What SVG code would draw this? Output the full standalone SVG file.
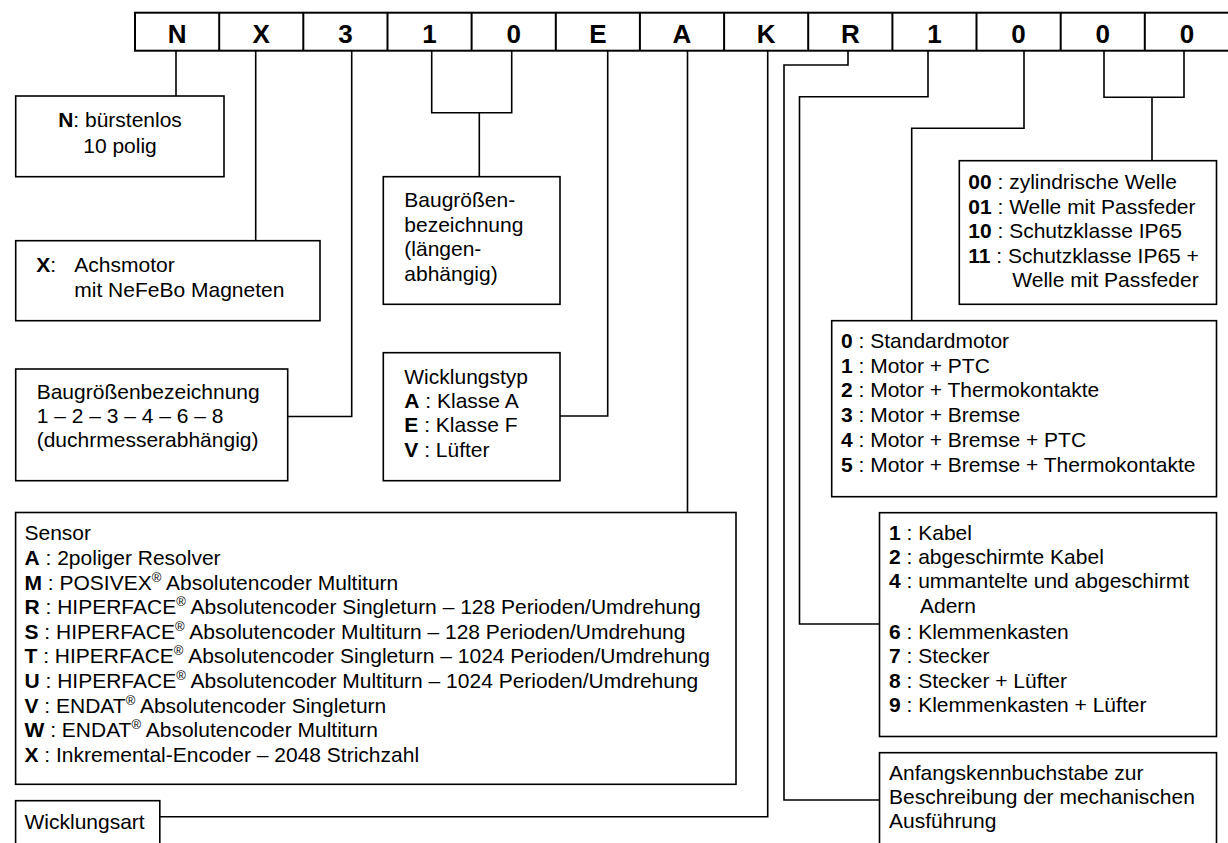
<svg xmlns="http://www.w3.org/2000/svg" width="1228" height="843" viewBox="0 0 1228 843">
<style>
text{font-family:"Liberation Sans",Arial,sans-serif;font-size:21px;fill:#000}
.hd{font-size:26px;font-weight:bold;text-anchor:middle}
.b{font-weight:bold}
.box{fill:#fff;stroke:#000;stroke-width:1.6}
.ln{fill:none;stroke:#000;stroke-width:1.6}
.hl{fill:none;stroke:#000;stroke-width:2}
.sup{font-size:13px}
</style>
<rect width="1228" height="843" fill="#fff"/>
<g id="header">
<rect class="hl" x="135" y="12.7" width="1100" height="38"/>
<path class="hl" d="M219.2 12.7V50.7M303.3 12.7V50.7M387.5 12.7V50.7M471.6 12.7V50.7M555.8 12.7V50.7M639.9 12.7V50.7M724.1 12.7V50.7M808.2 12.7V50.7M892.4 12.7V50.7M976.5 12.7V50.7M1060.7 12.7V50.7M1144.8 12.7V50.7"/>
<text class="hd" x="177.1" y="43">N</text>
<text class="hd" x="261.2" y="43">X</text>
<text class="hd" x="345.4" y="43">3</text>
<text class="hd" x="429.5" y="43">1</text>
<text class="hd" x="513.7" y="43">0</text>
<text class="hd" x="597.8" y="43">E</text>
<text class="hd" x="682" y="43">A</text>
<text class="hd" x="766.1" y="43">K</text>
<text class="hd" x="850.3" y="43">R</text>
<text class="hd" x="934.4" y="43">1</text>
<text class="hd" x="1018.6" y="43">0</text>
<text class="hd" x="1102.7" y="43">0</text>
<text class="hd" x="1186.9" y="43">0</text>
</g>
<g id="connectors">
<path class="ln" d="M176 50.7V96"/>
<path class="ln" d="M255.7 50.7V240.7"/>
<path class="ln" d="M351.7 50.7V416.5H287.7"/>
<path class="ln" d="M431.7 50.7V112.7H511.7V50.7M479.3 112.7V176.7"/>
<path class="ln" d="M607.7 50.7V416H560"/>
<path class="ln" d="M687.5 50.7V512.5"/>
<path class="ln" d="M767.7 50.7V816.7H159.8"/>
<path class="ln" d="M848 50.7V65H784V800H879.5"/>
<path class="ln" d="M928 50.7V96.7H799.5V624H879.5"/>
<path class="ln" d="M1024 50.7V128.3H911.7V320.7"/>
<path class="ln" d="M1104 50.7V97.3H1184V50.7M1152 97.3V160.7"/>
</g>
<g id="box-n">
<rect class="box" x="15.7" y="96" width="208.3" height="80.7"/>
<text x="120" y="127" text-anchor="middle"><tspan class="b">N</tspan>: bürstenlos</text>
<text x="120" y="153" text-anchor="middle">10 polig</text>
</g>
<g id="box-x">
<rect class="box" x="15.7" y="240.7" width="304.3" height="80"/>
<text x="36.3" y="272"><tspan class="b">X</tspan>:</text>
<text x="74.3" y="272">Achsmotor</text>
<text x="74.3" y="297">mit NeFeBo Magneten</text>
</g>
<g id="box-3">
<rect class="box" x="15.7" y="369" width="272" height="111.7"/>
<text x="36.7" y="399">Baugrößenbezeichnung</text>
<text x="36.7" y="423">1 – 2 – 3 – 4 – 6 – 8</text>
<text x="36.7" y="447">(duchrmesserabhängig)</text>
</g>
<g id="box-10">
<rect class="box" x="383.3" y="176.7" width="176.7" height="127.6"/>
<text x="404.3" y="207">Baugrößen-</text>
<text x="404.3" y="232">bezeichnung</text>
<text x="404.3" y="256">(längen-</text>
<text x="404.3" y="281">abhängig)</text>
</g>
<g id="box-e">
<rect class="box" x="383.3" y="352.7" width="176.7" height="128"/>
<text x="404.3" y="384">Wicklungstyp</text>
<text x="404.3" y="408"><tspan class="b">A</tspan> : Klasse A</text>
<text x="404.3" y="432"><tspan class="b">E</tspan> : Klasse F</text>
<text x="404.3" y="457"><tspan class="b">V</tspan> : Lüfter</text>
</g>
<g id="box-00">
<rect class="box" x="959.3" y="160.7" width="257.2" height="143.6"/>
<text x="968.3" y="189"><tspan class="b">00</tspan> : zylindrische Welle</text>
<text x="968.3" y="214"><tspan class="b">01</tspan> : Welle mit Passfeder</text>
<text x="968.3" y="238"><tspan class="b">10</tspan> : Schutzklasse IP65</text>
<text x="968.3" y="263"><tspan class="b">11</tspan> : Schutzklasse IP65 +</text>
<text x="1012.3" y="287">Welle mit Passfeder</text>
</g>
<g id="box-motor">
<rect class="box" x="831.7" y="320.7" width="384.8" height="176"/>
<text x="841" y="348"><tspan class="b">0</tspan> : Standardmotor</text>
<text x="841" y="373"><tspan class="b">1</tspan> : Motor + PTC</text>
<text x="841" y="397"><tspan class="b">2</tspan> : Motor + Thermokontakte</text>
<text x="841" y="422"><tspan class="b">3</tspan> : Motor + Bremse</text>
<text x="841" y="447"><tspan class="b">4</tspan> : Motor + Bremse + PTC</text>
<text x="841" y="472"><tspan class="b">5</tspan> : Motor + Bremse + Thermokontakte</text>
</g>
<g id="box-sensor">
<rect class="box" x="15.6" y="512.5" width="720.4" height="271.8"/>
<text x="24.5" y="540">Sensor</text>
<text x="24.5" y="565"><tspan class="b">A</tspan> : 2poliger Resolver</text>
<text x="24.5" y="590"><tspan class="b">M</tspan> : POSIVEX<tspan class="sup" dy="-8">®</tspan><tspan dy="8"> Absolutencoder Multiturn</tspan></text>
<text x="24.5" y="614"><tspan class="b">R</tspan> : HIPERFACE<tspan class="sup" dy="-8">®</tspan><tspan dy="8"> Absolutencoder Singleturn – 128 Perioden/Umdrehung</tspan></text>
<text x="24.5" y="639"><tspan class="b">S</tspan> : HIPERFACE<tspan class="sup" dy="-8">®</tspan><tspan dy="8"> Absolutencoder Multiturn – 128 Perioden/Umdrehung</tspan></text>
<text x="24.5" y="663"><tspan class="b">T</tspan> : HIPERFACE<tspan class="sup" dy="-8">®</tspan><tspan dy="8"> Absolutencoder Singleturn – 1024 Perioden/Umdrehung</tspan></text>
<text x="24.5" y="688"><tspan class="b">U</tspan> : HIPERFACE<tspan class="sup" dy="-8">®</tspan><tspan dy="8"> Absolutencoder Multiturn – 1024 Perioden/Umdrehung</tspan></text>
<text x="24.5" y="713"><tspan class="b">V</tspan> : ENDAT<tspan class="sup" dy="-8">®</tspan><tspan dy="8"> Absolutencoder Singleturn</tspan></text>
<text x="24.5" y="737"><tspan class="b">W</tspan> : ENDAT<tspan class="sup" dy="-8">®</tspan><tspan dy="8"> Absolutencoder Multiturn</tspan></text>
<text x="24.5" y="762"><tspan class="b">X</tspan> : Inkremental-Encoder – 2048 Strichzahl</text>
</g>
<g id="box-wicklungsart">
<rect class="box" x="15.6" y="800.7" width="144.2" height="60"/>
<text x="24.5" y="829">Wicklungsart</text>
</g>
<g id="box-kabel">
<rect class="box" x="879.5" y="512.7" width="337" height="223.8"/>
<text x="889" y="540"><tspan class="b">1</tspan> : Kabel</text>
<text x="889" y="564"><tspan class="b">2</tspan> : abgeschirmte Kabel</text>
<text x="889" y="588"><tspan class="b">4</tspan> : ummantelte und abgeschirmt</text>
<text x="920" y="613">Adern</text>
<text x="889" y="639"><tspan class="b">6</tspan> : Klemmenkasten</text>
<text x="889" y="663"><tspan class="b">7</tspan> : Stecker</text>
<text x="889" y="688"><tspan class="b">8</tspan> : Stecker + Lüfter</text>
<text x="889" y="712"><tspan class="b">9</tspan> : Klemmenkasten + Lüfter</text>
</g>
<g id="box-anfang">
<rect class="box" x="879.5" y="752.7" width="337" height="110"/>
<text x="889" y="780">Anfangskennbuchstabe zur</text>
<text x="889" y="804">Beschreibung der mechanischen</text>
<text x="889" y="828">Ausführung</text>
</g>
</svg>
